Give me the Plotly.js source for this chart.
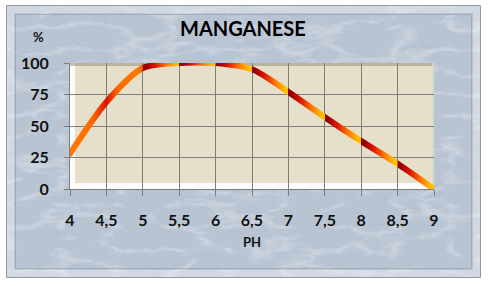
<!DOCTYPE html>
<html>
<head>
<meta charset="utf-8">
<script src="https://cdn.plot.ly/plotly-3.0.1.min.js"></script>
<style>
html,body{margin:0;padding:0;background:#ffffff;}
#chart{width:489px;height:286px;}
</style>
</head>
<body>
<div id="chart"></div>
<script>
// ---- data ----
const phValues = [4, 4.5, 5, 5.5, 6, 6.5, 7, 7.5, 8, 8.5, 9];
const manganese = [28, 69, 96, 100, 100, 95, 77, 57, 38, 20, 0];
const xTickVals = [4, 4.5, 5, 5.5, 6, 6.5, 7, 7.5, 8, 8.5, 9];
const xTickText = ['4', '4,5', '5', '5,5', '6', '6,5', '7', '7,5', '8', '8,5', '9'];
const yTickVals = [0, 25, 50, 75, 100];
const yTickText = ['0', '25', '50', '75', '100'];

// ---- geometry (pixels) ----
const W = 489, H = 286;
const M = {l: 70, r: 55, t: 63, b: 97};
const PW = W - M.l - M.r, PH = H - M.t - M.b;
const px2x = p => (p - M.l) / PW;
const py2y = p => (H - M.b - p) / PH;

const FONT = 'Lato, "Open Sans", sans-serif';

// marble texture (decorative background)
const marbleSvg =
 "<svg xmlns='http://www.w3.org/2000/svg' width='474' height='272' viewBox='0 0 474 272'>" +
 "<filter id='w' x='0' y='0' width='100%' height='100%'>" +
 "<feTurbulence type='turbulence' baseFrequency='0.018 0.045' numOctaves='5' seed='11'/>" +
 "<feColorMatrix type='matrix' values='0 0 0 0 1  0 0 0 0 1  0 0 0 0 1  -2.4 0 0 0 0.75'/></filter>" +
 "<filter id='d' x='0' y='0' width='100%' height='100%'>" +
 "<feTurbulence type='turbulence' baseFrequency='0.03 0.07' numOctaves='4' seed='3'/>" +
 "<feColorMatrix type='matrix' values='0 0 0 0 0.38  0 0 0 0 0.43  0 0 0 0 0.52  0 0 0 -3 0.5'/></filter>" +
 "<rect width='474' height='272' fill='#b9c4d3'/>" +
 "<rect width='474' height='272' filter='url(#w)' opacity='0.45'/>" +
 "<rect width='474' height='272' filter='url(#d)' opacity='0.45'/>" +
 "</svg>";
const marbleURI = 'data:image/svg+xml;charset=utf-8,' + encodeURIComponent(marbleSvg);

const frame = {x0: 6.5, x1: 480.5, y0: 5.5, y1: 277.5};

const trace = {
  x: phValues,
  y: manganese,
  type: 'scatter',
  mode: 'lines',
  line: {shape: 'spline', smoothing: 0.8, width: 6, color: '#ff7a00'},
  cliponaxis: false,
  hoverinfo: 'skip'
};

const shapes = [
  // white floor / side wall
  {type: 'rect', layer: 'below', xref: 'paper', yref: 'paper',
   x0: 0, x1: 1, y0: 0, y1: 1,
   fillcolor: '#fcfcfa', line: {width: 0}},
  // beige back wall
  {type: 'rect', layer: 'below', xref: 'paper', yref: 'paper',
   x0: px2x(75), x1: px2x(432), y0: py2y(183), y1: 1,
   fillcolor: '#e6dfca', line: {width: 0}},
  // top shadow band
  {type: 'rect', layer: 'below', xref: 'paper', yref: 'paper',
   x0: px2x(70), x1: px2x(434), y0: py2y(66), y1: 1,
   fillcolor: 'rgba(130,128,110,0.45)', line: {width: 0}},
  // right edge light strip
  {type: 'rect', layer: 'below', xref: 'paper', yref: 'paper',
   x0: px2x(432), x1: 1, y0: 0, y1: 1,
   fillcolor: '#d9d9d4', line: {width: 0}},
  // frame outer border
  {type: 'rect', layer: 'above', xref: 'paper', yref: 'paper',
   x0: px2x(frame.x0), x1: px2x(frame.x1), y0: py2y(frame.y1), y1: py2y(frame.y0),
   line: {color: '#8f99a5', width: 1}},
  // bevel highlight
  {type: 'rect', layer: 'above', xref: 'paper', yref: 'paper',
   x0: px2x(frame.x0 + 4), x1: px2x(frame.x1 - 4), y0: py2y(frame.y1 - 4), y1: py2y(frame.y0 + 4),
   line: {color: 'rgba(255,255,255,0.35)', width: 7}},
  {type: 'rect', layer: 'above', xref: 'paper', yref: 'paper',
   x0: px2x(frame.x0 + 9), x1: px2x(frame.x1 - 9), y0: py2y(frame.y1 - 9), y1: py2y(frame.y0 + 9),
   line: {color: 'rgba(110,125,145,0.35)', width: 1}}
];

const layout = {
  width: W, height: H,
  margin: M,
  paper_bgcolor: '#ffffff',
  plot_bgcolor: '#fcfcfa',
  showlegend: false,
  font: {family: FONT, color: '#111111'},
  title: {text: 'MANGANESE', font: {family: FONT, size: 20, color: '#000', weight: 'bold'},
          xref: 'paper', x: 0.475, xanchor: 'center', yref: 'container', y: 1 - 29 / H, yanchor: 'middle'},
  xaxis: {
    range: [4, 9], tickmode: 'array', tickvals: xTickVals, ticktext: xTickText,
    showgrid: true, gridcolor: '#7d7d7d', gridwidth: 1, zeroline: false,
    showline: true, linecolor: '#7d7d7d', linewidth: 1,
    ticks: 'outside', ticklen: 6, tickcolor: '#7d7d7d', ticklabelstandoff: 11,
    tickfont: {family: FONT, size: 16, color: '#111', weight: 'bold'},
    title: {text: 'PH', font: {family: FONT, size: 13, color: '#111', weight: 'bold'}, standoff: 9},
    fixedrange: true
  },
  yaxis: {
    range: [0, 100], tickmode: 'array', tickvals: yTickVals, ticktext: yTickText,
    showgrid: true, gridcolor: '#7d7d7d', gridwidth: 1, zeroline: false,
    showline: true, linecolor: '#7d7d7d', linewidth: 1,
    ticks: 'outside', ticklen: 5, tickcolor: '#7d7d7d', ticklabelstandoff: 12,
    tickfont: {family: FONT, size: 16, color: '#111', weight: 'bold'},
    fixedrange: true
  },
  annotations: [
    {text: '%', xref: 'paper', yref: 'paper', x: px2x(38), y: py2y(37), showarrow: false,
     xanchor: 'center', yanchor: 'middle', font: {family: FONT, size: 13, color: '#111', weight: 'bold'}}
  ],
  images: [
    {source: marbleURI, xref: 'paper', yref: 'paper',
     x: px2x(frame.x0), y: py2y(frame.y0),
     sizex: (frame.x1 - frame.x0) / PW, sizey: (frame.y1 - frame.y0) / PH,
     xanchor: 'left', yanchor: 'top', sizing: 'stretch', layer: 'below'}
  ],
  shapes: shapes
};

Plotly.newPlot('chart', [trace], layout, {staticPlot: true, displayModeBar: false}).then(gd => {
  // colour the line with a gradient: dark red at each data point fading to yellow before the next
  const svg = gd.querySelector('svg.main-svg');
  const NS = 'http://www.w3.org/2000/svg';
  let defs = svg.querySelector('defs');
  if (!defs) { defs = document.createElementNS(NS, 'defs'); svg.insertBefore(defs, svg.firstChild); }
  const grad = document.createElementNS(NS, 'linearGradient');
  grad.setAttribute('id', 'mnLineGrad');
  grad.setAttribute('gradientUnits', 'objectBoundingBox');
  grad.setAttribute('x1', '0'); grad.setAttribute('x2', '1');
  grad.setAttribute('y1', '0'); grad.setAttribute('y2', '0');
  const xmin = phValues[0], xmax = phValues[phValues.length - 1];
  const f = v => (v - xmin) / (xmax - xmin);
  const addStop = (o, c) => {
    const s = document.createElementNS(NS, 'stop');
    s.setAttribute('offset', Math.max(0, Math.min(1, o)).toFixed(5));
    s.setAttribute('stop-color', c);
    grad.appendChild(s);
  };
  for (let i = 0; i < phValues.length - 1; i++) {
    const a = f(phValues[i]), b = f(phValues[i + 1]), d = b - a;
    if (i === 0) {
      addStop(a, '#ff7a00');
      addStop(a + d * 0.6, '#ff6a00');
      addStop(a + d * 0.97, '#e01a00');
    } else if (i === 1) {
      addStop(a, '#d81200');
      addStop(a + d * 0.3, '#ff6a00');
      addStop(a + d * 0.85, '#ff7a00');
      addStop(a + d * 0.99, '#f06000');
    } else {
      addStop(a, '#8a0000');
      addStop(a + d * 0.12, '#a00000');
      addStop(a + d * 0.35, '#e01800');
      addStop(a + d * 0.65, '#ff7a00');
      addStop(a + d * 0.92, '#ffbf00');
      addStop(a + d * 0.995, '#ffc400');
    }
  }
  addStop(1, '#ffc400');
  defs.appendChild(grad);
  gd.querySelectorAll('.scatterlayer .trace path.js-line').forEach(p => {
    p.style.stroke = 'url(#mnLineGrad)';
    p.style.strokeLinecap = 'round';
  });
});
</script>
</body>
</html>
